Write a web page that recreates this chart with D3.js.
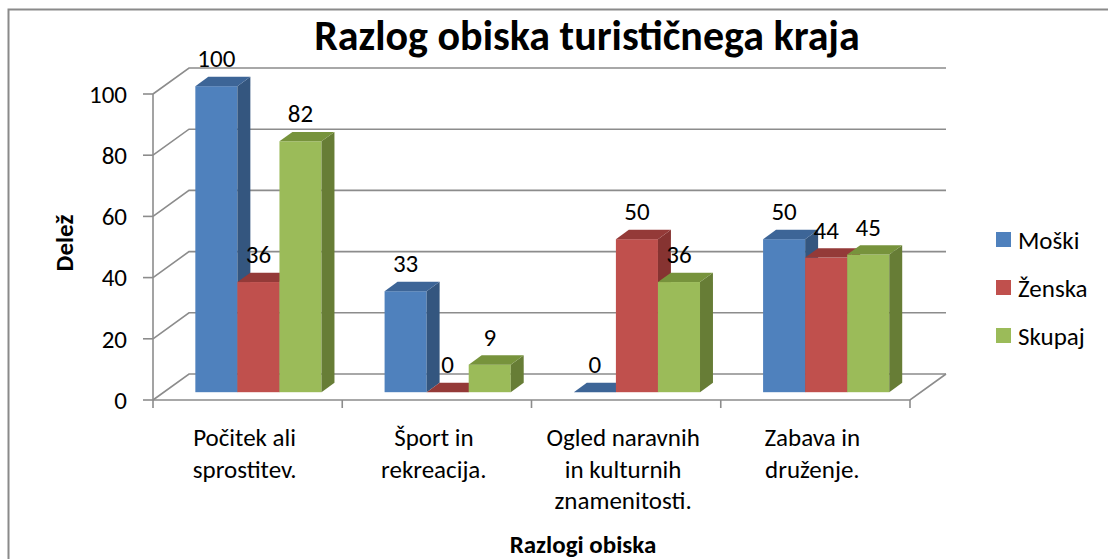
<!DOCTYPE html>
<html>
<head>
<meta charset="utf-8">
<script src="https://cdn.jsdelivr.net/npm/d3@7"></script>
<style>
  html, body { margin: 0; padding: 0; background: #fff; }
  svg { display: block; font-family: Carlito, Calibri, Lato, sans-serif; }
</style>
</head>
<body>
<div id="chart"></div>
<script>
// data
var categories = ["Počitek ali sprostitev.", "Šport in rekreacija.", "Ogled naravnih in kulturnih znamenitosti.", "Zabava in druženje."];
var categoryLines = [["Počitek ali", "sprostitev."], ["Šport in", "rekreacija."], ["Ogled naravnih", "in kulturnih", "znamenitosti."], ["Zabava in", "druženje."]];
var seriesNames = ["Moški", "Ženska", "Skupaj"];
var moski  = [100, 33, 0, 50];
var zenska = [36, 0, 50, 44];
var skupaj = [82, 9, 36, 45];
var yTicks = [0, 20, 40, 60, 80, 100];

var seriesValues = [moski, zenska, skupaj];
var colors = {
  front: ["#4f81bd", "#c0504d", "#9bbb59"],
  top:   ["#3d6597", "#943a38", "#77933c"],
  side:  ["#34567f", "#863331", "#677d36"]
};

var W = 1108, H = 559;
var fs = 25;   // normal text size
var svg = d3.select("#chart").append("svg").attr("width", W).attr("height", H);

// outer chart border (only top and left fall inside the window)
svg.append("rect")
  .attr("x", 8.5).attr("y", 9.5).attr("width", 1300).attr("height", 800)
  .attr("fill", "none").attr("stroke", "#8a8a8a").attr("stroke-width", 2);

// 3d geometry
var DX = 36, DY = -26;          // depth of the plot box
var t0 = 0.3, t1 = 0.66;        // bar front / back depth fraction
var left = 153, right = 910;

var y = d3.scaleLinear().domain([0, 100]).range([400, 94]);
var x0 = d3.scaleBand().domain(categories).range([left, right]);
var bw = x0.bandwidth();
var x1 = d3.scaleBand().domain(seriesNames).range([bw / 6, bw * 5 / 6]);
var barW = x1.bandwidth();

var grid = svg.append("g").attr("fill", "none").attr("stroke", "#8c8c8c").attr("stroke-width", 1.6);

// back wall gridlines + side wall diagonals
yTicks.forEach(function(v) {
  var yy = y(v);
  grid.append("path").attr("d",
    "M" + left + "," + yy + "L" + (left + DX) + "," + (yy + DY) + "L" + (right + DX) + "," + (yy + DY));
  grid.append("line").attr("x1", left - 10).attr("x2", left).attr("y1", yy).attr("y2", yy);
});
// front axis and floor edge
grid.append("line").attr("x1", left).attr("x2", left).attr("y1", y(100)).attr("y2", y(0));
grid.append("path").attr("d",
  "M" + left + "," + y(0) + "L" + right + "," + y(0) + "L" + (right + DX) + "," + (y(0) + DY));
// category tick marks
d3.range(categories.length + 1).forEach(function(i) {
  var xx = left + i * bw;
  grid.append("line").attr("x1", xx).attr("x2", xx).attr("y1", y(0)).attr("y2", y(0) + 8);
});

// y tick labels
svg.append("g").selectAll("text").data(yTicks).enter().append("text")
  .attr("x", 127).attr("y", function(d) { return y(d); })
  .attr("dy", "0.35em").attr("text-anchor", "end")
  .attr("font-size", fs).attr("fill", "#000")
  .text(function(d) { return d; });

// bars
var sdx = DX * (t1 - t0), sdy = DY * (t1 - t0);
var bars = [];
categories.forEach(function(c, ci) {
  seriesNames.forEach(function(s, si) {
    var v = seriesValues[si][ci];
    var bx = x0(c) + x1(s) + DX * t0;
    var bottom = y(0) + DY * t0;
    var top = y(v) + DY * t0;
    bars.push({ ci: ci, si: si, v: v, x: bx, top: top, bottom: bottom });
  });
});

var barG = svg.append("g");
bars.forEach(function(b) {
  var g = barG.append("g");
  if (b.v > 0) {
    g.append("rect")
      .attr("x", b.x).attr("y", b.top).attr("width", barW).attr("height", b.bottom - b.top)
      .attr("fill", colors.front[b.si]);
    g.append("path")
      .attr("d", "M" + (b.x + barW) + "," + b.top + "L" + (b.x + barW + sdx) + "," + (b.top + sdy) +
                 "L" + (b.x + barW + sdx) + "," + (b.bottom + sdy) + "L" + (b.x + barW) + "," + b.bottom + "Z")
      .attr("fill", colors.side[b.si]);
  }
  g.append("path")
    .attr("d", "M" + b.x + "," + b.top + "L" + (b.x + barW) + "," + b.top +
               "L" + (b.x + barW + sdx) + "," + (b.top + sdy) + "L" + (b.x + sdx) + "," + (b.top + sdy) + "Z")
    .attr("fill", colors.top[b.si]);
});

// value labels
svg.append("g").selectAll("text").data(bars).enter().append("text")
  .attr("x", function(d) { return d.x + barW / 2; })
  .attr("y", function(d) { return d.top - 19; })
  .attr("text-anchor", "middle").attr("font-size", fs).attr("fill", "#000")
  .text(function(d) { return d.v; });

// category labels
var catG = svg.append("g").attr("font-size", fs).attr("fill", "#000").attr("text-anchor", "middle");
categories.forEach(function(c, ci) {
  var cx = x0(c) + bw / 2 - 3;
  var t = catG.append("text").attr("x", cx).attr("y", 446);
  categoryLines[ci].forEach(function(line, li) {
    t.append("tspan").attr("x", cx).attr("dy", li === 0 ? 0 : 31.5).text(line);
  });
});

// axis titles
svg.append("text")
  .attr("x", 583).attr("y", 553).attr("text-anchor", "middle")
  .attr("font-size", 25).attr("font-weight", "bold").text("Razlogi obiska");
svg.append("text")
  .attr("transform", "translate(73,243) rotate(-90)").attr("text-anchor", "middle")
  .attr("font-size", 25).attr("font-weight", "bold").text("Delež");

// title
svg.append("text")
  .attr("x", 587).attr("y", 50).attr("text-anchor", "middle")
  .attr("font-size", 42).attr("font-weight", "bold").text("Razlog obiska turističnega kraja");

// legend
var leg = svg.append("g").selectAll("g").data(seriesNames).enter().append("g")
  .attr("transform", function(d, i) { return "translate(996," + (232 + i * 48) + ")"; });
leg.append("rect").attr("width", 15).attr("height", 15)
  .attr("fill", function(d, i) { return colors.front[i]; });
leg.append("text").attr("x", 22).attr("y", 8).attr("dy", "0.35em")
  .attr("font-size", fs).attr("fill", "#000").text(function(d) { return d; });
</script>
</body>
</html>
